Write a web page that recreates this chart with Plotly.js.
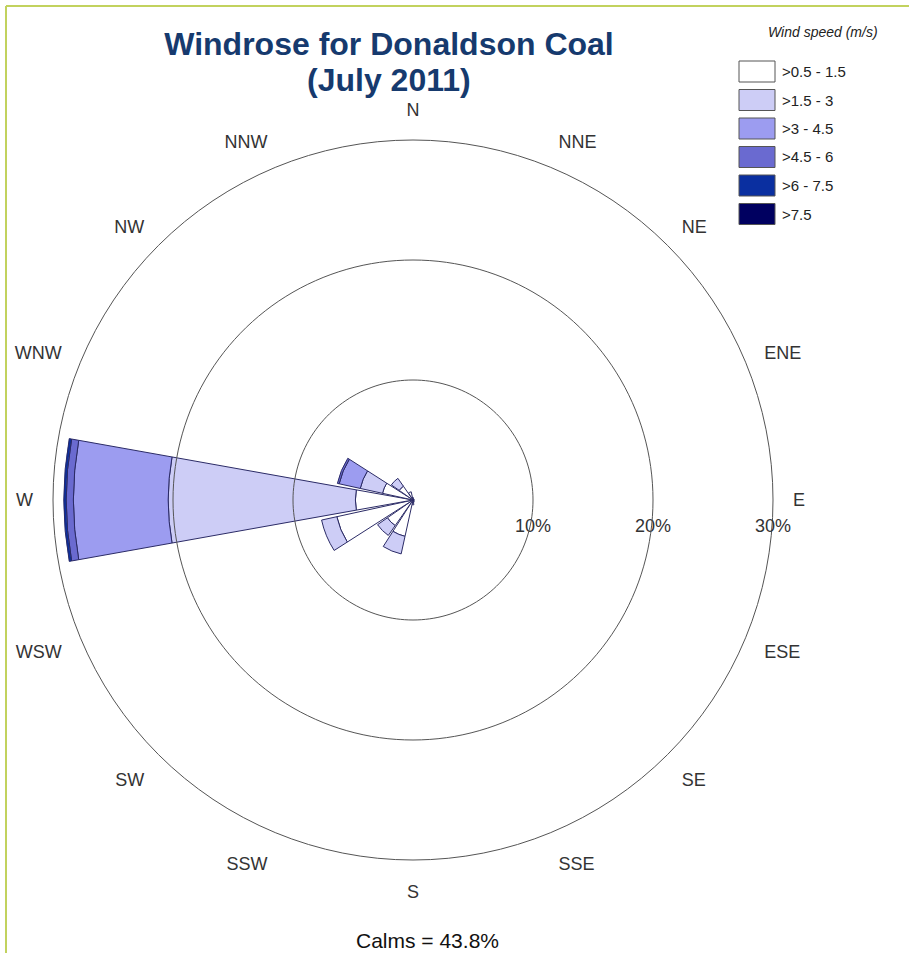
<!DOCTYPE html>
<html>
<head>
<meta charset="utf-8">
<script src="https://cdn.plot.ly/plotly-3.0.1.min.js"></script>
<style>html,body{margin:0;padding:0;background:#fff;}#chart{width:909px;height:953px;}</style>
</head>
<body>
<div id="chart"></div>
<script>
// Directions (compass order)
var directions = ['N','NNE','NE','ENE','E','ESE','SE','SSE','S','SSW','SW','WSW','W','WNW','NW','NNW'];
// Frequency (%) per wind-speed class, stacked
var speed_05_15 = [0.2,0.1,0.1,0.1,0.1,0.1,0.1,0.2,0.4,3.1,2.6,6.5,4.8,2.6,1.4,0.7];
var speed_15_3  = [0,0,0,0,0,0,0,0,0,1.5,1.0,1.3,15.6,1.9,0.8,0];
var speed_3_45  = [0,0,0,0,0,0,0,0,0,0,0,0,7.9,1.8,0,0];
var speed_45_6  = [0,0,0,0,0,0,0,0,0,0,0,0,0.6,0.15,0,0];
var speed_6_75  = [0,0,0,0,0,0,0,0,0,0,0,0,0.2,0,0,0];
var speed_75    = [0,0,0,0,0,0,0,0,0,0,0,0,0,0,0,0];
var speedLabels = ['>0.5 - 1.5','>1.5 - 3','>3 - 4.5','>4.5 - 6','>6 - 7.5','>7.5'];
var speedColors = ['#ffffff','#cdcdf6','#9c9cf0','#6a6ad0','#0a2fa0','#000060'];
var radialTicks = [10,20,30];
var radialTickText = ['10%','20%','30%'];
var calms = 43.8;

var series = [speed_05_15, speed_15_3, speed_3_45, speed_45_6, speed_6_75, speed_75];
var traces = series.map(function(vals, i){
  return {
    type:'barpolar', r:vals, theta:directions, name:speedLabels[i],
    marker:{color:speedColors[i], line:{color:'#2b2b66', width:1}},
    showlegend:false, hoverinfo:'skip'
  };
});
// grid circles drawn over the bars (as in reference)
var circTheta = [], k;
for (k=0;k<=360;k+=2) circTheta.push(k);
radialTicks.slice(0,2).forEach(function(t){
  traces.push({type:'scatterpolar', mode:'lines', r:circTheta.map(function(){return t;}), theta:circTheta,
    thetaunit:'degrees', subplot:'polar2', line:{color:'#555', width:1}, showlegend:false, hoverinfo:'skip'});
});

var W=909,H=953;
var cx=413, cy=500, R=360;
var dom = {x:[(cx-R)/W,(cx+R)/W], y:[(H-cy-R)/H,(H-cy+R)/H]};
var ff = 'Arial, Liberation Sans, sans-serif';

// legend drawn as shapes/annotations
var shapes = [], annotations = [];
speedLabels.forEach(function(lab,i){
  var top = 61 + i*28.5;
  shapes.push({type:'rect', xref:'paper', yref:'paper', x0:739/W, x1:775/W, y0:1-(top+21)/H, y1:1-top/H,
    fillcolor:speedColors[i], line:{color:'#555', width:1}});
  annotations.push({xref:'paper', yref:'paper', x:780/W, y:1-(top+10.5)/H, xanchor:'left', yanchor:'middle',
    text:lab, showarrow:false, font:{size:15, color:'#222', family:ff}});
});
annotations.push({xref:'paper', yref:'paper', x:823/W, y:1-32/H, xanchor:'center', yanchor:'middle',
  text:'<i>Wind speed (m/s)</i>', showarrow:false, font:{size:14, color:'#222', family:ff}});
annotations.push({xref:'paper', yref:'paper', x:427/W, y:1-940/H, xanchor:'center', yanchor:'middle',
  text:'Calms = '+calms.toFixed(1)+'%', showarrow:false, font:{size:21, color:'#111', family:ff}});
annotations.push({xref:'paper', yref:'paper', x:389/W, y:1-80/H, xanchor:'center', yanchor:'middle',
  text:'<b>(July 2011)</b>', showarrow:false, font:{size:32, color:'#163a6e', family:ff}});
// frame lines
shapes.push({type:'line', xref:'paper', yref:'paper', x0:6/W, x1:1, y0:1-6/H, y1:1-6/H, line:{color:'#c2d25e', width:2}});
shapes.push({type:'line', xref:'paper', yref:'paper', x0:6/W, x1:6/W, y0:0, y1:1-6/H, line:{color:'#c2d25e', width:2}});

var layout = {
  width:W, height:H, margin:{l:0,r:0,t:0,b:0}, paper_bgcolor:'#fff', font:{family:ff, size:14, color:'#333'},
  title:{text:'<b>Windrose for Donaldson Coal</b>', x:389/W, xanchor:'center', y:1-44/H, yanchor:'middle',
    font:{size:32, color:'#163a6e', family:ff}},
  polar:{
    domain:dom, bgcolor:'rgba(0,0,0,0)', barmode:'stack',
    radialaxis:{range:[0,30], tickvals:radialTicks, ticktext:radialTickText, showgrid:false, showline:false,
      ticks:'outside', ticklen:10, tickcolor:'rgba(0,0,0,0)',
      angle:0, tickangle:0, tickfont:{size:18, color:'#333'}, layer:'above traces'},
    angularaxis:{type:'category', categoryarray:directions, direction:'clockwise', rotation:90,
      showgrid:false, showline:true, linecolor:'#555', linewidth:1, ticks:'outside', ticklen:16,
      tickcolor:'rgba(0,0,0,0)', tickfont:{size:18, color:'#333'}}
  },
  polar2:{
    domain:dom, bgcolor:'rgba(0,0,0,0)',
    radialaxis:{range:[0,30], visible:false},
    angularaxis:{direction:'clockwise', rotation:90, visible:false}
  },
  shapes:shapes, annotations:annotations
};
Plotly.newPlot('chart', traces, layout, {displayModeBar:false, staticPlot:true});
</script>
</body>
</html>
